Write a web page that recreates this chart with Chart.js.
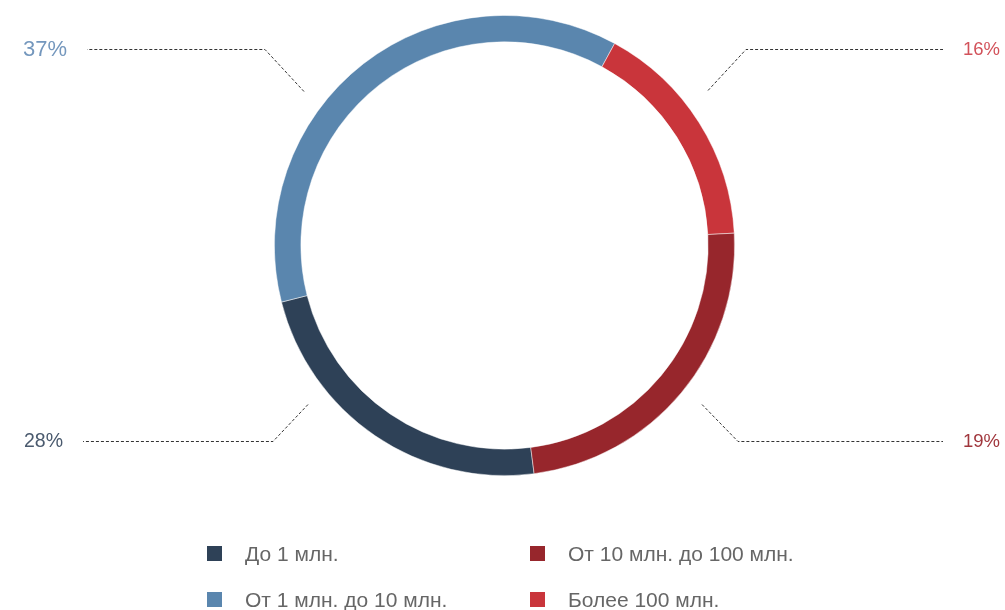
<!DOCTYPE html>
<html>
<head>
<meta charset="utf-8">
<script src="https://cdn.jsdelivr.net/npm/chart.js@4"></script>
<style>
  html, body { margin: 0; padding: 0; background: #fff; overflow: hidden; }
  #wrap { position: relative; width: 1005px; height: 610px; }
  #c { position: absolute; left: 0; top: 0; }
  .lg { position: absolute; font-family: "Liberation Sans", Arial, sans-serif; font-weight: 400; font-size: 21px; color: #666; white-space: nowrap; line-height: 20px; }
  .sw { position: absolute; width: 15px; height: 15px; }
</style>
</head>
<body>
<div id="wrap">
  <canvas id="c" width="1005" height="610"></canvas>
</div>
<script>
// ---- data (clockwise order as drawn) ----
const categories = ["До 1 млн.", "От 1 млн. до 10 млн.", "Более 100 млн.", "От 10 млн. до 100 млн."];
const sliceValues = [23.1, 36.9, 16.2, 23.8];
const labelTexts = ["28%", "37%", "16%", "19%"];
const sliceColors = ["#2e4157", "#5a86ae", "#c9353b", "#97262c"];
const labelColors = ["#4a5a6e", "#7497bd", "#d2525a", "#a0363c"];
// legend order (two columns)
const legendOrder = ["До 1 млн.", "От 1 млн. до 10 млн.", "От 10 млн. до 100 млн.", "Более 100 млн."];

// ---- leader line layout (offsets from doughnut centre) ----
const leaders = [
  { idx: 0, pts: [[-196.5, 158.5], [-231.5, 195.2], [-421.5, 195.2]], align: "right", size: 19.5 },
  { idx: 1, pts: [[-200.5, -154.8], [-239.5, -196.8], [-417.5, -196.8]], align: "right", size: 22 },
  { idx: 2, pts: [[203.5, -155.5], [241.5, -196.8], [438.5, -196.8]], align: "left", size: 18.5 },
  { idx: 3, pts: [[197.5, 158.5], [233.5, 195.2], [438.5, 195.2]], align: "left", size: 18.5 }
];

const leaderPlugin = {
  id: "leaders",
  afterDraw(chart) {
    const arc = chart.getDatasetMeta(0).data[0];
    if (!arc) return;
    const cx = arc.x, cy = arc.y;
    const ctx = chart.ctx;
    ctx.save();
    leaders.forEach(l => {
      ctx.beginPath();
      ctx.setLineDash([3, 2]);
      ctx.strokeStyle = "#333";
      ctx.lineWidth = 1;
      l.pts.forEach((p, i) => {
        const x = cx + p[0], y = Math.round(cy + p[1]) + 0.5;
        if (i === 0) ctx.moveTo(x, y); else ctx.lineTo(x, y);
      });
      ctx.stroke();
      ctx.setLineDash([]);
      const end = l.pts[l.pts.length - 1];
      ctx.font = "400 " + l.size + "px 'Liberation Sans', Arial, sans-serif";
      ctx.fillStyle = labelColors[l.idx];
      ctx.textBaseline = "middle";
      ctx.textAlign = l.align;
      const tx = cx + end[0] + (l.align === "right" ? -20 : 20);
      ctx.fillText(labelTexts[l.idx], tx, cy + end[1] + 1);
    });
    ctx.restore();
  }
};

new Chart(document.getElementById("c"), {
  type: "doughnut",
  data: {
    labels: categories,
    datasets: [{
      data: sliceValues,
      backgroundColor: sliceColors,
      borderColor: "rgba(255,255,255,0.6)",
      borderWidth: 0.8,
      hoverOffset: 0
    }]
  },
  options: {
    responsive: false,
    animation: false,
    rotation: 172.6,
    cutout: "88.5%",
    layout: { padding: { top: 15, bottom: 134, left: 274, right: 270 } },
    plugins: { legend: { display: false }, tooltip: { enabled: false } }
  },
  plugins: [leaderPlugin]
});

// ---- HTML legend ----
const wrap = document.getElementById("wrap");
const legendPos = [[207, 546], [207, 592], [530, 546], [530, 592]];
legendOrder.forEach((name, i) => {
  const k = categories.indexOf(name);
  const sw = document.createElement("div");
  sw.className = "sw";
  sw.style.left = legendPos[i][0] + "px";
  sw.style.top = legendPos[i][1] + "px";
  sw.style.background = sliceColors[k];
  wrap.appendChild(sw);
  const t = document.createElement("div");
  t.className = "lg";
  t.textContent = name;
  t.style.left = (legendPos[i][0] + 38) + "px";
  t.style.top = (legendPos[i][1] - 2) + "px";
  wrap.appendChild(t);
});
</script>
</body>
</html>
